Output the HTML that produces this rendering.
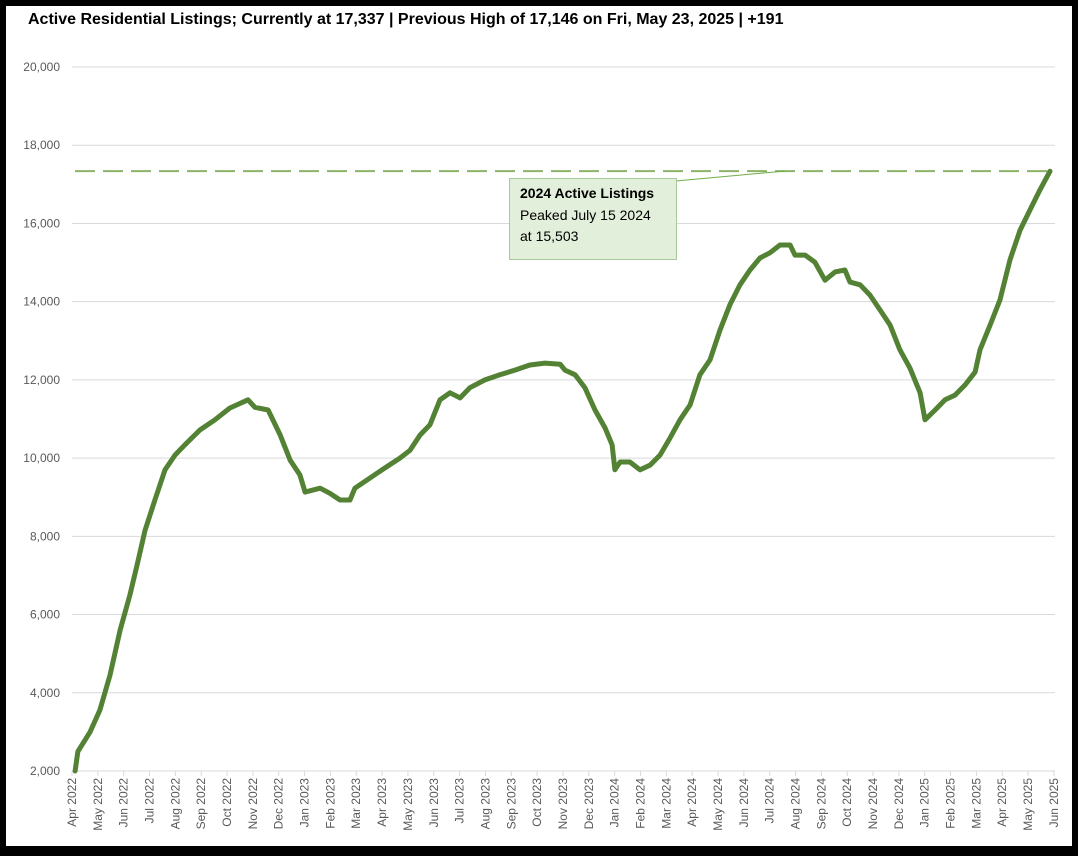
<!DOCTYPE html>
<html><head><meta charset="utf-8"><style>
body{margin:0;background:#000;width:1078px;height:856px;overflow:hidden;font-family:"Liberation Sans",sans-serif}
#card{position:absolute;left:6px;top:6px;width:1066px;height:840px;background:#fff}
</style></head><body>
<div id="card"></div>
<svg id="chart" width="1078" height="856" style="position:absolute;left:0;top:0">
<text x="28" y="24" font-size="16" font-weight="bold" fill="#000">Active Residential Listings; Currently at 17,337 | Previous High of 17,146 on Fri, May 23, 2025 | +191</text>
</svg>
<script>
const monthLabels=["Apr 2022","May 2022","Jun 2022","Jul 2022","Aug 2022","Sep 2022","Oct 2022","Nov 2022","Dec 2022","Jan 2023","Feb 2023","Mar 2023","Apr 2023","May 2023","Jun 2023","Jul 2023","Aug 2023","Sep 2023","Oct 2023","Nov 2023","Dec 2023","Jan 2024","Feb 2024","Mar 2024","Apr 2024","May 2024","Jun 2024","Jul 2024","Aug 2024","Sep 2024","Oct 2024","Nov 2024","Dec 2024","Jan 2025","Feb 2025","Mar 2025","Apr 2025","May 2025","Jun 2025"];
const yTicks=[2000,4000,6000,8000,10000,12000,14000,16000,18000,20000];
const t=[0.12,0.23,0.70,1.08,1.47,1.86,2.24,2.52,2.83,3.21,3.60,3.99,4.37,4.95,5.53,6.11,6.81,7.08,7.59,8.05,8.44,8.82,9.02,9.60,9.98,10.37,10.76,10.95,11.53,12.11,12.69,13.08,13.47,13.85,14.24,14.63,15.02,15.40,15.98,16.56,17.14,17.72,18.30,18.89,19.08,19.47,19.85,20.24,20.63,20.90,21.01,21.21,21.59,21.98,22.37,22.76,23.14,23.53,23.92,24.30,24.69,25.08,25.46,25.85,26.24,26.63,27.01,27.40,27.79,27.98,28.37,28.75,29.14,29.53,29.91,30.11,30.50,30.88,31.27,31.66,32.04,32.43,32.82,33.01,33.40,33.79,34.17,34.56,34.95,35.14,35.53,35.91,36.30,36.69,37.07,37.46,37.85];
const listings=[2000,2500,3000,3560,4450,5600,6500,7270,8160,8930,9700,10080,10340,10720,10980,11280,11490,11300,11230,10600,9950,9570,9130,9230,9100,8930,8930,9230,9490,9750,10000,10200,10590,10850,11490,11670,11540,11800,12000,12130,12250,12380,12430,12400,12250,12130,11800,11230,10770,10340,9700,9900,9900,9700,9820,10080,10510,10980,11360,12130,12510,13280,13920,14430,14810,15120,15250,15450,15450,15190,15190,15010,14550,14760,14810,14500,14430,14170,13790,13400,12770,12300,11670,10980,11230,11490,11610,11870,12200,12770,13400,14040,15070,15830,16340,16860,17337];
const currentHigh=17337;
const ns="http://www.w3.org/2000/svg";
const svg=document.getElementById('chart');
const X0=72,MW=25.84,Y0=771,YH=704;
const xs=m=>X0+m*MW;
const ys=v=>Y0-(v-2000)/18000*YH;
function mk(tag,attrs,parent){const e=document.createElementNS(ns,tag);for(const k in attrs)e.setAttribute(k,attrs[k]);(parent||svg).appendChild(e);return e;}
yTicks.forEach((v,i)=>{
  const g=mk('line',{x1:X0,x2:1055,y1:ys(v),y2:ys(v),stroke:'#d9d9d9','stroke-width':1});
  
  
  const tx=mk('text',{x:60,y:ys(v)+4,'text-anchor':'end','font-size':12,fill:'#595959'});
  tx.textContent=v.toLocaleString('en-US');
  
  
});
monthLabels.forEach((lab,i)=>{
  const x=xs(i);
  const tk=mk('line',{x1:x,x2:x,y1:Y0,y2:Y0+5,stroke:'#d9d9d9'});
  
  
  const tx=mk('text',{x:0,y:0,'text-anchor':'end','font-size':12,fill:'#595959',transform:`translate(${x+4},${Y0+7}) rotate(-90)`});
  tx.textContent=lab;
  
  
});
const dash=mk('line',{x1:75,x2:xs(t[t.length-1]),y1:ys(currentHigh),y2:ys(currentHigh),stroke:'#8db36b','stroke-width':2,'stroke-dasharray':'20 8'});


const pts=t.map((m,i)=>xs(m).toFixed(1)+','+ys(listings[i]).toFixed(1)).join(' ');
const pl=mk('polyline',{points:pts,fill:'none',stroke:'#548235','stroke-width':5,'stroke-linejoin':'round','stroke-linecap':'round'});


const ld=mk('line',{x1:676,y1:181,x2:785,y2:171,stroke:'#70ad47','stroke-width':1});


const box=mk('rect',{x:509.5,y:178.5,width:167,height:81,fill:'#e2efda',stroke:'#a9c99a'});


[["2024 Active Listings",198,'bold'],["Peaked July 15 2024",220,'normal'],["at 15,503",241,'normal']].forEach(a=>{
  const tx=mk('text',{x:520,y:a[1],'font-size':14,'font-weight':a[2],fill:'#000'});
  tx.textContent=a[0];
  
  
});
</script>
</body></html>
